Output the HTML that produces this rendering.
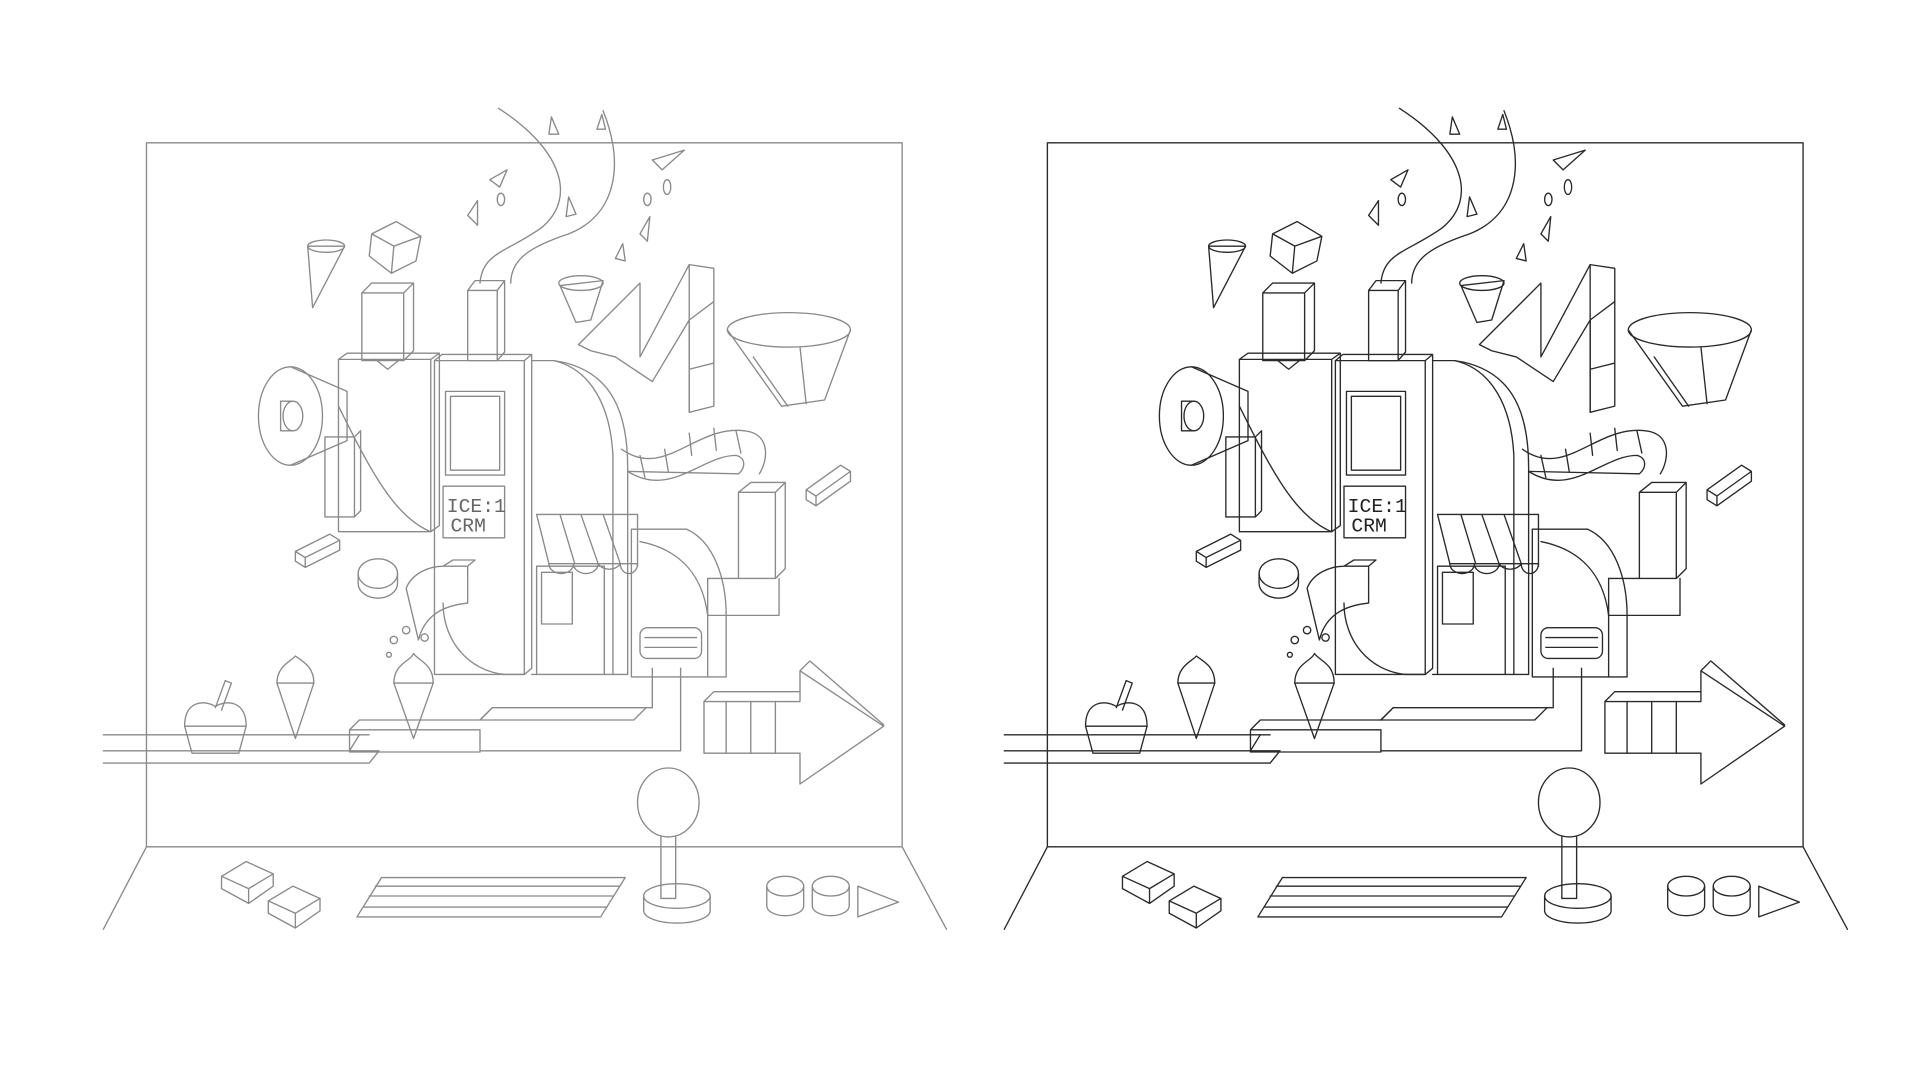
<!DOCTYPE html>
<html><head><meta charset="utf-8"><style>html,body{margin:0;padding:0;background:#fff}svg{display:block}</style></head>
<body>
<svg width="1920" height="1080" viewBox="0 0 1560 877.5" xmlns="http://www.w3.org/2000/svg">
<defs>
<g id="scene" fill="none" stroke-linejoin="round" stroke-linecap="round">
  <!-- frame -->
  <rect x="119" y="116" width="614" height="572"/>
  <path d="M119,688 L84,755 M733,688 L769,755"/>
  <!-- smoke ribbon -->
  <path d="M405,88 C455,120 470,160 440,185 C412,205 392,205 390,230"/>
  <path d="M490,90 C508,135 500,175 462,190 C432,200 415,210 415,230"/>
  <path d="M448,95 l6,14 l-8,0 z M485,105 l4,-12 l3,12z M398,146 l14,-8 l-6,14z M380,175 l8,-12 l0,20z M462,160 l6,14 l-8,2z M530,130 l26,-8 l-18,16z M520,190 l8,-14 l-2,20z M500,210 l6,-12 l2,14z"/>
  <ellipse cx="407" cy="162" rx="3" ry="5"/><ellipse cx="542" cy="152" rx="3" ry="6"/><ellipse cx="526" cy="162" rx="3" ry="5"/>
  <!-- floating cone & cube -->
  <path d="M250,200 L280,200 L254,250 Z"/><ellipse cx="265" cy="200" rx="15" ry="5"/>
  <path d="M302,190 L322,180 L342,192 L338,212 L318,222 L300,208 Z M302,190 L320,200 L342,192 M320,200 L318,222"/>
  <!-- chimneys -->
  <path d="M294,238 h34 v55 h-34 z M294,238 l8,-8 h34 l-8,8 M336,230 v55 l-8,8"/>
  <path d="M380,236 h24 v57 h-24 z M380,236 l6,-8 h24 l-6,8 M410,228 v58 l-6,7"/>
  <!-- megaphone block -->
  <path d="M275,292 h75 v140 h-75 z M275,292 l7,-5 h75 l-7,5 M357,287 v140 l-7,5"/>
  <path d="M305,292 l10,8 l10,-8"/>
  <path d="M275,330 C300,380 320,420 350,432"/>
  <ellipse cx="236" cy="338" rx="26" ry="40"/>
  <path d="M236,298 L282,318 L282,358 L236,378"/>
  <ellipse cx="238" cy="338" rx="8" ry="12"/><path d="M238,326 h-10 v24 h10"/>
  <path d="M264,355 h24 v65 h-24 z M288,355 l5,-5 v65 l-5,5"/>
  <!-- central tower -->
  <path d="M353,293 h73 v255 h-73 z M353,293 l6,-5 h73 l-6,5 M432,288 v255 l-6,5"/>
  <rect x="362" y="318" width="48" height="68"/><rect x="366" y="322" width="40" height="60"/>
  <rect x="360" y="395" width="50" height="42"/>
  <!-- spout -->
  <path d="M330,478 C335,465 350,460 360,460 h20 l0,30 C360,492 345,500 340,520 Z M360,460 l8,-5 h18 l-6,5"/>
  <path d="M360,490 C360,520 380,545 410,548 L426,548"/>
  <!-- arch structure -->
  <path d="M432,293 h18 C500,300 510,340 510,380 v168 h-78"/>
  <path d="M450,293 C480,300 496,330 498,370 v178"/>
  <path d="M436,460 h55 v88 M436,460 v88"/>
  <rect x="440" y="465" width="25" height="42"/>
  <!-- awning -->
  <path d="M436,418 h50 l32,0 v42 M436,418 l10,40 M455,418 l12,40 M472,418 l14,40 M490,418 l14,40 M446,458 h72"/>
  <path d="M446,458 a10,8 0 0 0 20,0 a10,8 0 0 0 20,0 a10,8 0 0 0 18,0 a7,8 0 0 0 14,0"/>
  <!-- tube -->
  <path d="M505,365 C540,390 565,345 605,350 C625,352 625,372 617,385"/>
  <path d="M510,383 C545,405 570,370 598,370 C606,372 606,380 600,385 Z"/>
  <path d="M520,370 l4,18 M540,365 l3,18 M560,352 l2,18 M580,348 l2,18 M598,350 l4,18"/>
  <!-- lower right machine -->
  <path d="M513,430 h45 C580,440 590,470 590,500 v50 h-77 z"/>
  <path d="M520,440 C545,445 570,460 575,500 v50"/>
  <rect x="520" y="510" width="50" height="25" rx="6"/><path d="M524,518 h42 M524,526 h42"/>
  <path d="M575,470 h55 v-70 h-30 v70 M600,400 l10,-8 h28 l-8,8 M638,392 v70 l-8,8"/>
  <path d="M575,470 l0,30 h58 l0,-30"/>
  <!-- floating N shape -->
  <path d="M470,280 L520,230 L520,290 L560,215 L580,218 L580,330 L560,335 L560,260 L530,310 L500,290 L480,285 Z"/>
  <path d="M560,215 L560,335 M560,260 L580,245 M560,300 L580,295"/>
  <!-- cup -->
  <path d="M455,232 L490,228 L480,260 L468,262 Z"/><ellipse cx="472" cy="230" rx="18" ry="6"/>
  <!-- bowl -->
  <ellipse cx="641" cy="268" rx="50" ry="14"/>
  <path d="M591,268 L635,330 L670,325 L691,268 M612,290 L640,330 M650,282 L655,328"/>
  <!-- small bricks -->
  <path d="M655,398 l28,-20 l8,5 l-28,20 z M655,398 v8 l8,5 v-8 M691,383 v8 l-28,20"/>
  <path d="M240,448 l28,-14 l8,5 l-28,14 z M240,448 v8 l8,5 v-8 M276,439 v8 l-28,14"/>
  <ellipse cx="307" cy="466" rx="16" ry="12"/><path d="M291,466 v8 a16,12 0 0 0 32,0 v-8"/>
  <!-- conveyor -->
  <path d="M84,597 H300 M84,610 H300 M84,620 H300 L308,610 H284 L292,597"/>
  <path d="M284,593 h106 v18 h-106 z M284,593 l8,-8 h98"/>
  <path d="M390,585 l10,-10 h130 v-32 M390,610 h163 v-67"/>
  <path d="M400,575 l-10,10 h125 l10,-10"/>
  <!-- cupcake & cones -->
  <path d="M150,590 h50 l-6,22 h-38 z"/><path d="M150,590 c0,-20 15,-22 25,-16 c10,-6 25,-4 25,16"/>
  <path d="M175,575 l8,-22 l5,2 l-8,22"/>
  <path d="M225,555 h30 l-15,45 z"/><path d="M225,555 c0,-14 12,-18 15,-22 c5,4 15,8 15,22"/>
  <path d="M320,555 h32 l-16,45 z"/><path d="M320,555 c0,-16 14,-18 16,-24 c4,6 16,8 16,24"/>
  <circle cx="320" cy="520" r="3"/><circle cx="330" cy="512" r="3"/><circle cx="345" cy="518" r="3"/><circle cx="316" cy="532" r="2"/>
  <!-- big arrow -->
  <path d="M572,570 h78 v-25 l68,45 l-68,47 v-25 h-78 z M572,570 l8,-8 h70 M650,545 l8,-8 l60,52"/>
  <path d="M590,570 v42 M610,570 v42 M630,570 v42"/>
  <!-- joystick -->
  <ellipse cx="543" cy="652" rx="25" ry="28"/>
  <path d="M537,680 v50 h12 v-50"/>
  <ellipse cx="550" cy="728" rx="27" ry="10"/><path d="M523,728 v12 a27,10 0 0 0 54,0 v-12"/>
  <!-- bottom panel items -->
  <path d="M180,712 l20,-12 l22,10 l-20,12 z M180,712 v10 l22,12 v-12 M222,710 v10 l-20,14"/>
  <path d="M218,732 l20,-12 l22,10 l-20,12 z M218,732 v10 l22,12 v-12 M260,730 v10 l-20,14"/>
  <path d="M290,745 l20,-32 h198 l-20,32 z M300,728 h198 M295,737 h198 M305,720 h198"/>
  <ellipse cx="638" cy="720" rx="15" ry="8"/><path d="M623,720 v16 a15,8 0 0 0 30,0 v-16"/>
  <ellipse cx="675" cy="720" rx="15" ry="8"/><path d="M660,720 v16 a15,8 0 0 0 30,0 v-16"/>
  <path d="M697,720 v25 l33,-12 z"/>
</g>
</defs>
<rect width="1560" height="877.5" fill="#fff"/>
<use href="#scene" stroke="#8a8a8a" stroke-width="1.1"/>
<use href="#scene" transform="translate(732,0)" stroke="#2a2a2a" stroke-width="1.1"/>
<g font-family="Liberation Mono, monospace" font-size="16" fill="#666">
  <text x="363" y="416">ICE:1</text><text x="366" y="432">CRM</text>
</g>
<g font-family="Liberation Mono, monospace" font-size="16" fill="#222">
  <text x="1095" y="416">ICE:1</text><text x="1098" y="432">CRM</text>
</g>
</svg>
</body></html>
